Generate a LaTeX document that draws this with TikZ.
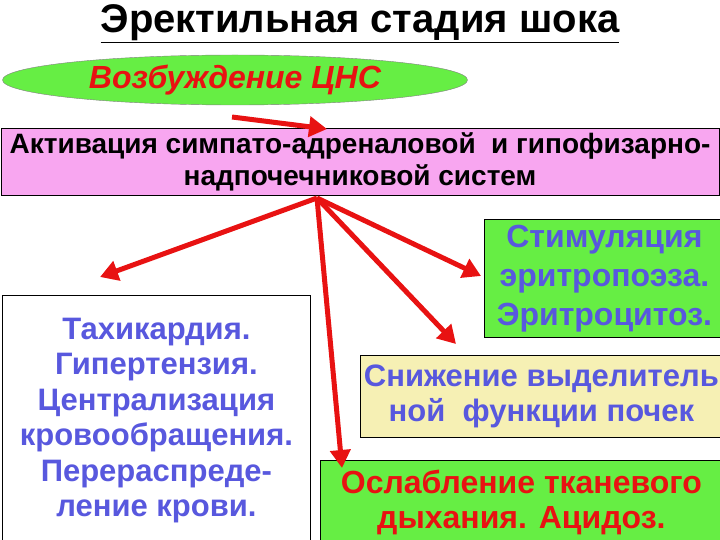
\documentclass[tikz,border=0pt]{standalone}
\usepackage{fontspec}
\setmainfont{Liberation Sans}
\usetikzlibrary{arrows.meta,shapes.geometric}
\definecolor{leaf}{RGB}{102,238,68}
\definecolor{rose}{RGB}{248,166,240}
\definecolor{straw}{RGB}{246,240,180}
\definecolor{ink}{RGB}{88,88,222}
\definecolor{blood}{RGB}{232,18,18}
\tikzset{
  box/.style={draw=black,line width=0.8pt,inner sep=0pt,align=center},
  arr/.style={draw=blood,line width=5pt,-{Triangle[length=18pt,width=20pt]}}
}
\begin{document}
\begin{tikzpicture}[x=1pt,y=-1pt]
  \useasboundingbox (0,0) rectangle (720,540);

  \node (title) at (360,24) [font=\fontsize{40}{44}\selectfont\bfseries]
        {\underline{Эректильная стадия шока}};

  \node (cns) [ellipse,draw=gray,fill=leaf,minimum width=465pt,minimum height=50pt,inner sep=0pt,
        text=blood,font=\fontsize{32}{34}\selectfont\bfseries\itshape]
        at (235,80) {Возбуждение ЦНС};

  \node (act) [box,fill=rose,minimum width=718pt,minimum height=67pt,
        font=\fontsize{28}{32}\selectfont\bfseries]
        at (360,162) {\raisebox{-3pt}{Активация симпато-адреналовой\ \ и гипофизарно-}\\\raisebox{-3pt}{надпочечниковой систем}};

  \node (tachy) [box,fill=white,text=ink,minimum width=308pt,minimum height=250pt,anchor=north west,
        font=\fontsize{31}{35.5}\selectfont\bfseries]
        at (2,295) {Тахикардия.\\Гипертензия.\\Централизация\\кровообращения.\\Перераспреде-\\ление крови.};

  \node (stim) [box,fill=leaf,text=ink,minimum width=240pt,minimum height=118pt,anchor=north west,
        font=\fontsize{32}{39}\selectfont\bfseries]
        at (484,219) {Стимуляция\\эритропоэза.\\Эритроцитоз.};

  \node (kid) [box,fill=straw,text=ink,minimum width=362pt,minimum height=82pt,anchor=north west,
        font=\fontsize{31}{35}\selectfont\bfseries]
        at (360,355) {Снижение выделитель\\ной\ \ функции почек};

  \node (tis) [box,fill=leaf,text=blood,minimum width=402pt,minimum height=85pt,anchor=north west,
        font=\fontsize{32}{35}\selectfont\bfseries]
        at (320,460) {Ослабление тканевого\\дыхания. Ацидоз.};

  \coordinate (c1) at (232,117);
  \coordinate (c2) at (327,129);
  \coordinate (src) at (317,198);
  \coordinate (tL) at (100,277);
  \coordinate (tD) at (342,468);
  \coordinate (tK) at (456,344);
  \coordinate (tS) at (481,276);

  \draw [arr] (c1)  -- (c2);
  \draw [arr] (src) -- (tL);
  \draw [arr] (src) -- (tD);
  \draw [arr] (src) -- (tK);
  \draw [arr] (src) -- (tS);
\end{tikzpicture}
\end{document}
